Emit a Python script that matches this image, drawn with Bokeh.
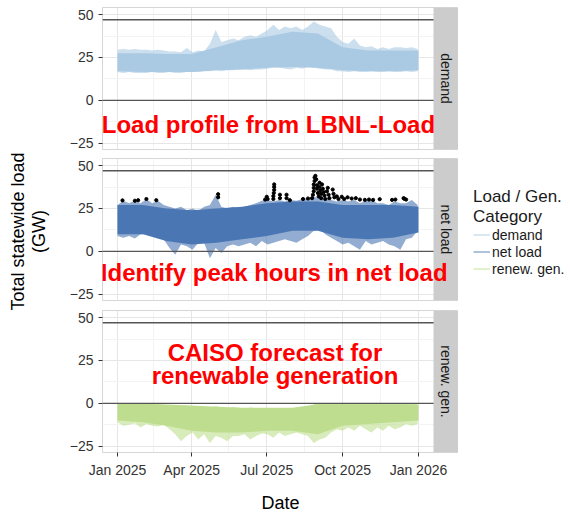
import math
import pandas as pd
from bokeh.plotting import figure
from bokeh.layouts import column, row
from bokeh.models import (Range1d, FixedTicker, Span, BoxAnnotation, Label,
                          Legend, LegendItem, DatetimeTickFormatter)
from bokeh.core.properties import value
from bokeh.embed import file_html
from bokeh.resources import INLINE

FONT = "Liberation Sans"

# ---------------- data ----------------
# weekly samples of the outer hourly envelope (GW)
sample_dates = pd.date_range("2025-01-01", "2025-12-31", freq="7D")  # 53 weeks

demand_high = [29.5, 30, 29.5, 30, 29.5, 29.5, 29, 29.5, 29, 28.5, 28.5, 28, 30.5, 28, 29, 28.5,
               33, 41, 34, 35, 36, 35, 37, 38, 37, 39,
               41, 44, 41, 43, 42, 43, 41, 43, 46, 44, 43, 42,
               37, 34, 33, 36, 32, 31, 31.5, 30, 31, 30, 31, 31, 30.5, 31, 30]
demand_low = [16.5, 16, 16.5, 16, 16, 16, 16.5, 16, 16, 16.5, 16, 16, 16.5, 16.5, 16.5, 17,
              17, 17.5, 17, 17.5, 17.5, 18, 18, 17.5, 18, 18,
              18.5, 19.5, 19, 18.5, 18, 19, 18.5, 19.5, 19, 18.5, 18, 18,
              17, 17, 16.5, 17, 16.5, 16.5, 17, 16.5, 16.5, 17, 16.5, 16.5, 17, 16.5, 17]

netload_high = [27, 29.5, 28, 29.5, 28, 30.5, 28, 29.5, 27, 26, 25, 26, 24, 25, 23.5, 26,
                27, 33, 26, 25, 26, 25, 26, 27, 28, 29.5,
                30, 29, 30, 29, 30, 29.5, 30.5, 31, 32, 31, 31.5, 30,
                29, 30, 29, 30, 28, 29.5, 30, 28, 28, 27, 29, 28, 28, 30, 27]
netload_low = [9, 8, 9, 7.5, 10, 10, 9, 8, 7, 2, -2, 4, 3, 1, 5, 5,
               -4, 2, -1, 3, 4, 3, 4, 5, 3, 6,
               4, 5, 6, 7, 6, 5, 7, 9, 12, 13, 10, 8,
               6, 4, 5, 3, 1, 6, 4, 5, 6, 4, 3, 1, 7, 8, 12]

renew_high = [-0.5, -0.3, -0.4, -0.3, -0.5, -0.3, -0.4, -0.3,
              -0.8, -1.2, -1.0, -1.5, -1.2, -2.0, -1.5, -1.8,
              -2.5, -1.5, -2.2, -3.0, -2.0, -2.5, -3.5, -2.2, -2.8, -3.0,
              -2.5, -3.5, -2.8, -3.2, -2.5, -3.0, -2.6, -3.0,
              -0.3, -0.2, -0.3, -0.2, -0.4, -0.2, -0.3, -0.2, -0.3, -0.4, -0.2, -0.3, -0.2,
              -0.4, -0.3, -0.2, -0.3, -0.4, -0.5]
renew_low = [-11, -13, -12.5, -11.5, -14, -12, -13, -13.5, -12.5,
             -15, -18, -22, -19, -17, -21, -18, -23, -19, -20, -22, -19,
             -19, -18, -21, -19, -17.5, -18, -20, -17, -19, -18, -17, -18, -19,
             -23, -21, -20,
             -17, -15, -16, -14, -16, -13, -15, -17, -14, -16, -13, -15, -14, -12, -13, -12]

# monthly samples of the dense core of each series (GW)
month_dates = pd.date_range("2025-01-01", "2026-01-01", freq="MS")  # 13 points
demand_core_high = [27.5, 27.5, 27, 27, 31, 35, 37, 40, 39, 31, 29, 29, 29]
demand_core_low = [17, 16.5, 16.5, 16.5, 17.5, 18, 19, 19.5, 19, 17.5, 17, 17, 17.5]
netload_core_high = [27, 27, 25, 24, 25, 26, 28, 29, 29, 27, 27, 27, 26]
netload_core_low = [10, 10, 6, 4, 5, 7, 9, 12, 12, 8, 7, 8, 11]
renew_core_high = [-0.3, -0.3, -0.6, -1.2, -2, -2.5, -2.5, -2.5, -0.5, -0.5, -0.5, -0.5, -0.6]
renew_core_low = [-10, -11, -13, -16, -17, -17, -16, -16, -18, -13, -12, -11, -10]

# peak net-load hours (day of year offset, GW)
peak_day_offsets = [6, 21, 25, 35, 47,
                    122, 122,
                    179, 181, 182,
                    189, 189, 189.5, 190, 190, 190,
                    197, 197, 205, 205, 209,
                    225, 231,
                    236, 237, 238, 238, 238, 239, 239, 240, 241, 242, 242, 243, 244, 245, 245,
                    246, 247, 247, 248, 249, 250, 251, 252, 254, 255, 256, 257, 261, 262, 263,
                    266, 268,
                    272, 275, 279, 284, 289, 294,
                    300, 305, 310, 318,
                    333, 337, 347, 348, 350]
peak_values = [29.7, 29.5, 29.8, 30.5, 29.8,
               31.5, 33.3,
               30.2, 31.8, 30.5,
               30.5, 32.2, 34, 35.8, 37.5, 39,
               31, 33, 31, 33, 29.8,
               30.5, 30.8,
               31, 33, 35, 37, 39, 41, 43, 44, 42, 38.5, 36.5, 34, 32, 40, 37.5,
               35.5, 33.5, 31, 39, 36.5, 34.5, 32.5, 30.5, 35, 37, 33, 31, 36, 33.5, 31.5,
               32, 30.5,
               31.8, 30.5, 31.5, 30.8, 31, 30.2,
               30, 30.2, 30, 30.4,
               30, 30.2, 31, 30.6, 30.2]

capacity_gw = 47

panel_names = ["demand", "net load", "renew. gen."]
series_colors = ["#AAC9E2", "#4A77B3", "#BEDD8E"]
y_ticks = [-25, 0, 25, 50]
y_minor = [-12.5, 12.5, 37.5]
x_tick_dates = ["2025-01-01", "2025-04-01", "2025-07-01", "2025-10-01", "2026-01-01"]
x_minor_dates = ["2024-11-16", "2025-02-14", "2025-05-16", "2025-08-16", "2025-11-16", "2026-02-15"]
annotation_texts = [["Load profile from LBNL-Load"],
                    ["Identify peak hours in net load"],
                    ["CAISO forecast for", "renewable generation"]]
y_label_lines = ["Total statewide load", "(GW)"]

# ---------------- geometry ----------------
def ms(t):
    return pd.Timestamp(t).value / 1e6

data_start = ms("2025-01-01")
data_end = ms("2026-01-01")
pad = 0.05 * (data_end - data_start)
x_lo = data_start - pad
panel_hi = data_end + pad
PANEL_W, STRIP_W, FRAME_H = 331, 25, 142
LAB_W = 50
SIDE_H, SIDE_BOTTOM = 463, 50
ms_per_px = (panel_hi - x_lo) / PANEL_W
x_hi = panel_hi + STRIP_W * ms_per_px
Y_LO, Y_HI = -28.6, 54.1

xt_major = [ms(d) for d in x_tick_dates]
xt_minor = [ms(d) for d in x_minor_dates]

peak_dates = pd.Timestamp("2025-01-01") + pd.to_timedelta(peak_day_offsets, unit="D")


def style_yaxis(yax):
    yax.ticker = FixedTicker(ticks=y_ticks, minor_ticks=y_minor)
    yax.major_label_overrides = {t: ("\u2212%d" % (-t) if t < 0 else str(t)) for t in y_ticks}
    yax.major_label_text_font = FONT
    yax.major_label_text_font_size = "14px"
    yax.major_label_text_color = "#333333"
    yax.major_tick_out = 4
    yax.major_tick_in = 0
    yax.minor_tick_out = 0
    yax.minor_tick_in = 0
    yax.major_tick_line_color = "#333333"
    yax.axis_line_color = None


def make_panel(top, bottom, xloc):
    p = figure(frame_width=PANEL_W + STRIP_W, frame_height=FRAME_H,
               x_axis_type="datetime", x_axis_location=xloc,
               x_range=Range1d(x_lo, x_hi), y_range=Range1d(Y_LO, Y_HI),
               output_backend="svg", toolbar_location=None,
               min_border_left=102 - LAB_W, min_border_right=0,
               min_border_top=top, min_border_bottom=bottom,
               background_fill_color="white", border_fill_color="white",
               outline_line_color="#D6D6D6", outline_line_width=1)
    p.xgrid.ticker = FixedTicker(ticks=xt_major, minor_ticks=xt_minor)
    p.ygrid.ticker = FixedTicker(ticks=y_ticks, minor_ticks=y_minor)
    for g in (p.xgrid, p.ygrid):
        g.grid_line_color = "#E6E6E6"
        g.grid_line_width = 1
        g.minor_grid_line_color = "#F3F3F3"
        g.minor_grid_line_width = 1
    style_yaxis(p.yaxis[0])
    return p


p1 = make_panel(7, 4, None)
p2 = make_panel(5, 4, None)
p3 = make_panel(6, 61, "below")

# data: pale outer envelope (sparse spikes) + solid dense core
FRINGE_ALPHA = 0.6
p1.varea(x=sample_dates, y1=demand_low, y2=demand_high, fill_color=series_colors[0], fill_alpha=FRINGE_ALPHA)
p1.varea(x=month_dates, y1=demand_core_low, y2=demand_core_high, fill_color=series_colors[0])
p2.varea(x=sample_dates, y1=netload_low, y2=netload_high, fill_color=series_colors[1], fill_alpha=FRINGE_ALPHA)
p2.varea(x=month_dates, y1=netload_core_low, y2=netload_core_high, fill_color=series_colors[1])
p2.scatter(x=peak_dates, y=peak_values, size=3.2, color="black")
p3.varea(x=sample_dates, y1=renew_low, y2=renew_high, fill_color=series_colors[2], fill_alpha=FRINGE_ALPHA)
p3.varea(x=month_dates, y1=renew_core_low, y2=renew_core_high, fill_color=series_colors[2])

for p, name in zip((p1, p2, p3), panel_names):
    for loc in (0, capacity_gw):
        p.add_layout(Span(location=loc, dimension="width", line_color="#555555", line_width=1.4))
    p.add_layout(BoxAnnotation(left=panel_hi, right=x_hi, fill_color="#CCCCCC", fill_alpha=1,
                               line_color=None, level="overlay"))
    p.add_layout(Label(x=(panel_hi + x_hi) / 2, y=(Y_LO + Y_HI) / 2, text=name,
                       angle=-math.pi / 2, text_align="center", text_baseline="middle",
                       text_font=FONT, text_font_size="14px", text_color="#1A1A1A",
                       level="overlay"))

# red annotations (kept inside the frame)
ann_pos = [[(ms("2025-07-03"), -14)],
           [(ms("2025-07-10"), -12.2)],
           [(ms("2025-07-11"), 29.8), (ms("2025-07-11"), 16)]]
for p, texts, poss in zip((p1, p2, p3), annotation_texts, ann_pos):
    for t, (x, y) in zip(texts, poss):
        p.add_layout(Label(x=x, y=y, text=t, text_align="center", text_baseline="middle",
                           text_font=FONT, text_font_style="bold", text_font_size="24px",
                           text_color="#FF0000", level="overlay"))

# x axis on bottom panel
xax = p3.xaxis[0]
xax.ticker = FixedTicker(ticks=xt_major, minor_ticks=xt_minor)
xax.formatter = DatetimeTickFormatter(days="%b %Y", months="%b %Y", years="%b %Y")
xax.major_label_text_font = FONT
xax.major_label_text_font_size = "14px"
xax.major_label_text_color = "#333333"
xax.major_tick_out = 4
xax.major_tick_in = 0
xax.minor_tick_out = 0
xax.minor_tick_in = 0
xax.major_tick_line_color = "#333333"
xax.axis_line_color = None
xax.axis_label = "Date"
xax.axis_label_text_font = FONT
xax.axis_label_text_font_size = "18px"
xax.axis_label_text_font_style = "normal"
xax.axis_label_text_color = "#000000"
xax.axis_label_standoff = 12

# shared y-axis title in its own narrow strip (pixel coordinates, y from top)
lab = figure(frame_width=LAB_W, frame_height=SIDE_H, min_border_top=0, min_border_left=0,
             min_border_right=0, min_border_bottom=SIDE_BOTTOM,
             x_axis_location=None, y_axis_location=None,
             x_range=Range1d(0, LAB_W), y_range=Range1d(SIDE_H, 0),
             output_backend="svg", toolbar_location=None,
             outline_line_color=None, background_fill_color="white", border_fill_color="white")
lab.grid.visible = False
for t, xc in zip(y_label_lines, (17, 38)):
    lab.add_layout(Label(x=xc, y=231, text=t, angle=math.pi / 2, text_align="center",
                         text_baseline="middle", text_font=FONT, text_font_size="18px",
                         text_color="#000000"))

# legend in its own narrow figure, vertically centred on the panels
lf = figure(frame_width=97, frame_height=SIDE_H, min_border_top=0, min_border_left=15,
            min_border_right=0, min_border_bottom=SIDE_BOTTOM,
            x_axis_location=None, y_axis_location=None,
            x_range=Range1d(0, 1), y_range=Range1d(0, 1),
            output_backend="svg", toolbar_location=None,
            outline_line_color=None, background_fill_color="white", border_fill_color="white")
lf.grid.visible = False
items = []
for lab_txt, col in zip(panel_names, series_colors):
    r = lf.line(x=[float("nan")], y=[float("nan")], line_color=col, line_width=1.5, line_alpha=0.6)
    items.append(LegendItem(label=value(lab_txt), renderers=[r]))
leg = Legend(items=items, title="Load / Gen.\nCategory", location="left",
             label_text_font=FONT, label_text_font_size="14px", label_text_color="#1A1A1A",
             title_text_font=FONT, title_text_font_size="17px", title_text_font_style="normal",
             title_text_color="#1A1A1A", title_standoff=0,
             glyph_width=17, glyph_height=15, label_standoff=2, spacing=1,
             padding=10, margin=0, border_line_color=None, background_fill_alpha=0)
lf.add_layout(leg)

layout = row(lab, column(p1, p2, p3, spacing=0), lf, spacing=0)
open("out.html", "w").write(file_html(layout, INLINE, "chart"))
